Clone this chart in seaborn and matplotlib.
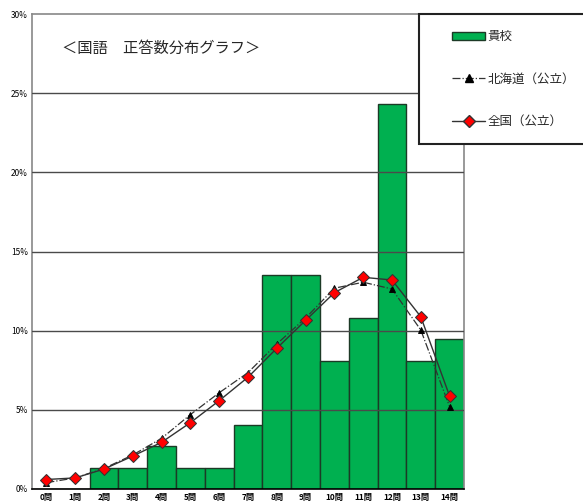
import numpy as np
import pandas as pd
import matplotlib
matplotlib.use("Agg")
import matplotlib.pyplot as plt
import seaborn as sns
from matplotlib.patches import Patch, Rectangle
from matplotlib.lines import Line2D
from matplotlib.ticker import FuncFormatter

sns.set_theme(style="white")
plt.rcParams['font.family'] = ['Noto Sans CJK JP', 'DejaVu Sans']

categories = [f"{i}問" for i in range(15)]
school = [0, 0, 1.35, 1.35, 2.70, 1.35, 1.35, 4.05, 13.51, 13.51, 8.11, 10.81, 24.32, 8.11, 9.46]
hokkaido = [0.4, 0.7, 1.3, 2.15, 3.2, 4.7, 6.08, 7.35, 9.16, 10.8, 12.68, 13.06, 12.63, 10.04, 5.2]
national = [0.6, 0.7, 1.26, 2.08, 2.95, 4.19, 5.58, 7.06, 8.89, 10.65, 12.4, 13.37, 13.2, 10.88, 5.87]
yticks = [0, 5, 10, 15, 20, 25, 30]

label_school = "貴校"
label_hok = "北海道（公立）"
label_nat = "全国（公立）"
title = "＜国語　正答数分布グラフ＞"

df = pd.DataFrame({"cat": categories, "school": school, "hok": hokkaido, "nat": national})

W, H = 583, 504
fig = plt.figure(figsize=(W / 100, H / 100), dpi=100)
ax = fig.add_axes([32 / W, 15 / H, (464 - 32) / W, (489 - 14) / H])

for y in yticks[1:-1]:
    ax.axhline(y, color="#4a4a4a", lw=1, zorder=0)

sns.barplot(data=df, x="cat", y="school", color="#00B050", saturation=1,
            width=1.0, edgecolor="#1c3a26", linewidth=1, ax=ax, zorder=2)

sns.pointplot(data=df, x="cat", y="hok", color="#333333", markers="^",
              linestyles="-.", errorbar=None, ax=ax, markersize=5,
              linewidth=0.9, markerfacecolor="black", markeredgecolor="black")
sns.pointplot(data=df, x="cat", y="nat", color="#333333", markers="D",
              linestyles="-", errorbar=None, ax=ax, markersize=6,
              linewidth=1.0, markerfacecolor="#ff0000", markeredgecolor="#333333")
for l in ax.lines:
    l.set_zorder(4)

ax.set_xlim(-0.5, 14.5)
ax.set_ylim(0, 30)
ax.set_yticks(yticks)
ax.yaxis.set_major_formatter(FuncFormatter(lambda v, p: f"{int(v)}%"))
ax.set_xlabel("")
ax.set_ylabel("")
ax.tick_params(axis="both", length=0, labelsize=6, colors="black", pad=3)
for lab in ax.get_xticklabels():
    lab.set_fontweight("bold")
for side in ["left", "top", "right"]:
    ax.spines[side].set_color("#888888")
    ax.spines[side].set_linewidth(1.2)
ax.spines["bottom"].set_color("black")
ax.spines["bottom"].set_linewidth(1.2)

fig.text(62 / W, 1 - 48 / H, title, fontsize=11, va="center", ha="left")

# legend box
rect = Rectangle((419 / W, 1 - 144 / H), 200 / W, 130 / H, transform=fig.transFigure,
                 facecolor="white", edgecolor="#222222", lw=1.5, zorder=10)
fig.patches.append(rect)
handles = [
    Patch(facecolor="#00B050", edgecolor="#1c3a26", lw=1),
    Line2D([], [], color="#333333", ls="-.", lw=0.9, marker="^", markersize=6,
           markerfacecolor="black", markeredgecolor="black"),
    Line2D([], [], color="#333333", ls="-", lw=1.0, marker="D", markersize=6,
           markerfacecolor="#ff0000", markeredgecolor="#333333"),
]
leg = fig.legend(handles, [label_school, label_hok, label_nat], loc="upper left",
                 bbox_to_anchor=(446 / W, 1 - 24 / H), frameon=False, fontsize=9,
                 handlelength=2.6, handletextpad=0.2, labelspacing=2.35, borderpad=0)
leg.set_zorder(11)

fig.savefig("out.png", dpi=100)
